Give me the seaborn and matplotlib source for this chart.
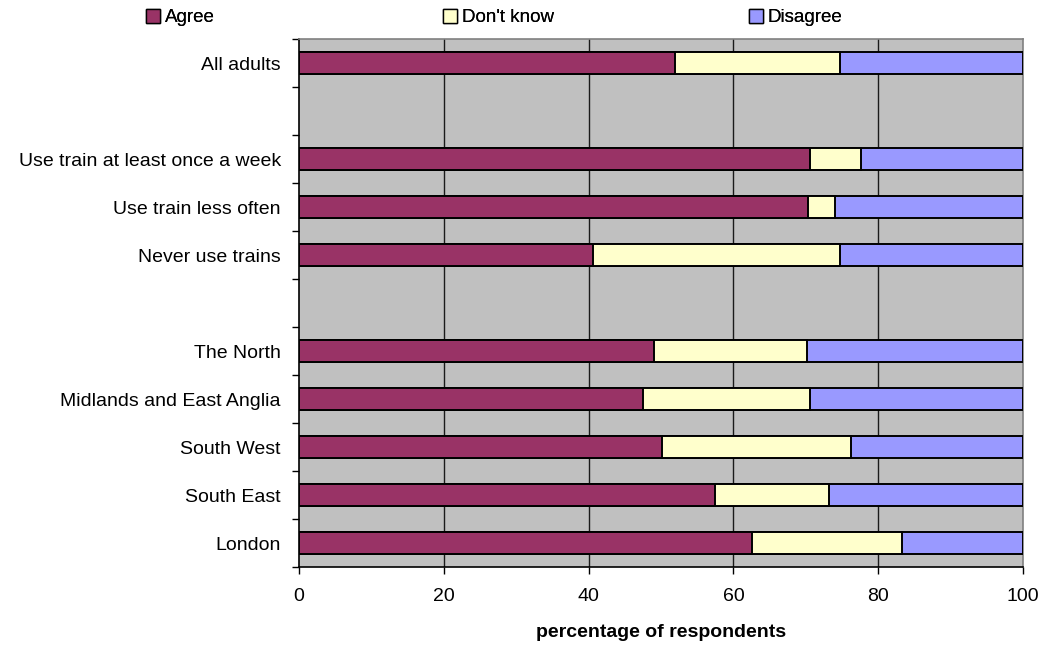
import matplotlib
matplotlib.use("Agg")
import matplotlib.pyplot as plt
from matplotlib.patches import Patch
import numpy as np
import pandas as pd
import seaborn as sns

# Survey groups, top to bottom; empty strings are spacer rows between groups
groups = ["All adults", "", "Use train at least once a week", "Use train less often",
          "Never use trains", " ", "The North", "Midlands and East Anglia",
          "South West", "South East", "London"]
agree = [52, None, 70.6, 70.3, 40.6, None, 49.1, 47.5, 50.2, 57.4, 62.6]
dont_know = [22.7, None, 7.0, 3.7, 34.1, None, 21.0, 23.1, 26.1, 15.8, 20.7]
disagree = [25.3, None, 22.4, 26.0, 25.3, None, 29.9, 29.4, 23.7, 26.8, 16.7]

series_names = ["Agree", "Don't know", "Disagree"]
colors = ["#993366", "#FFFFCC", "#9999FF"]
x_ticks = [0, 20, 40, 60, 80, 100]
x_label = "percentage of respondents"

sns.set_theme(style="white")
plt.rcParams["font.family"] = ["Liberation Sans", "DejaVu Sans"]
plt.rcParams["text.color"] = "black"
plt.rcParams["xtick.color"] = "black"
plt.rcParams["ytick.color"] = "black"
plt.rcParams["axes.labelcolor"] = "black"

rows = []
for g, a, d, s in zip(groups, agree, dont_know, disagree):
    if a is None:
        continue
    rows.append({"group": g, "Agree": a, "Don't know": d, "Disagree": s})
df = pd.DataFrame(rows)
df["c1"] = df["Agree"]
df["c2"] = df["Agree"] + df["Don't know"]
df["c3"] = df["c2"] + df["Disagree"]

fig = plt.figure(figsize=(10.43, 6.48), dpi=100)
ax = fig.add_axes([0.2867, 0.125, 0.6941, 0.8148])
ax.set_facecolor("#C0C0C0")

# Stacked bars drawn as cumulative layers, widest first
for col, color in zip(["c3", "c2", "c1"], colors[::-1]):
    sns.barplot(data=df, x=col, y="group", order=groups, orient="h",
                color=color, width=0.44, edgecolor="black", linewidth=1.4,
                saturation=1, errorbar=None, ax=ax, zorder=3)

ax.set_xlim(0, 100)
ax.set_ylim(len(groups) - 0.5, -0.5)
ax.set_xticks(x_ticks)
ax.set_xticklabels([str(t) for t in x_ticks], fontsize=14)
ax.set_xlabel(x_label, fontsize=14, fontweight="bold", labelpad=14)
ax.set_ylabel("")
ax.set_yticks(range(len(groups)))
ax.set_yticklabels(groups, fontsize=14)
ax.set_yticks(np.arange(-0.5, len(groups)), minor=True)
ax.tick_params(axis="y", which="major", left=False, length=0, pad=13)
ax.tick_params(axis="y", which="minor", left=True, length=5, width=1,
               color="black", direction="out")
ax.tick_params(axis="x", which="major", bottom=True, length=5, width=1,
               color="black", direction="out", pad=10)

for v in x_ticks[1:-1]:
    ax.axvline(v, color="#1a1a1a", linewidth=1, zorder=1)

for side in ["left", "bottom"]:
    ax.spines[side].set_color("black")
    ax.spines[side].set_linewidth(1.2)
for side in ["top", "right"]:
    ax.spines[side].set_color("#808080")
    ax.spines[side].set_linewidth(1.2)

# One legend entry per series, spaced across the top
legend_x = [0.140, 0.425, 0.718]
for name, color, lx in zip(series_names, colors, legend_x):
    h = Patch(facecolor=color, edgecolor="black", linewidth=1)
    leg = fig.legend([h], [name], loc="center left", bbox_to_anchor=(lx, 0.973),
                     frameon=False, fontsize=13.5, handlelength=0.75,
                     handleheight=0.75, handletextpad=0.25, borderpad=0,
                     borderaxespad=0)
    fig.add_artist(leg)

fig.savefig("out.png", dpi=100)
